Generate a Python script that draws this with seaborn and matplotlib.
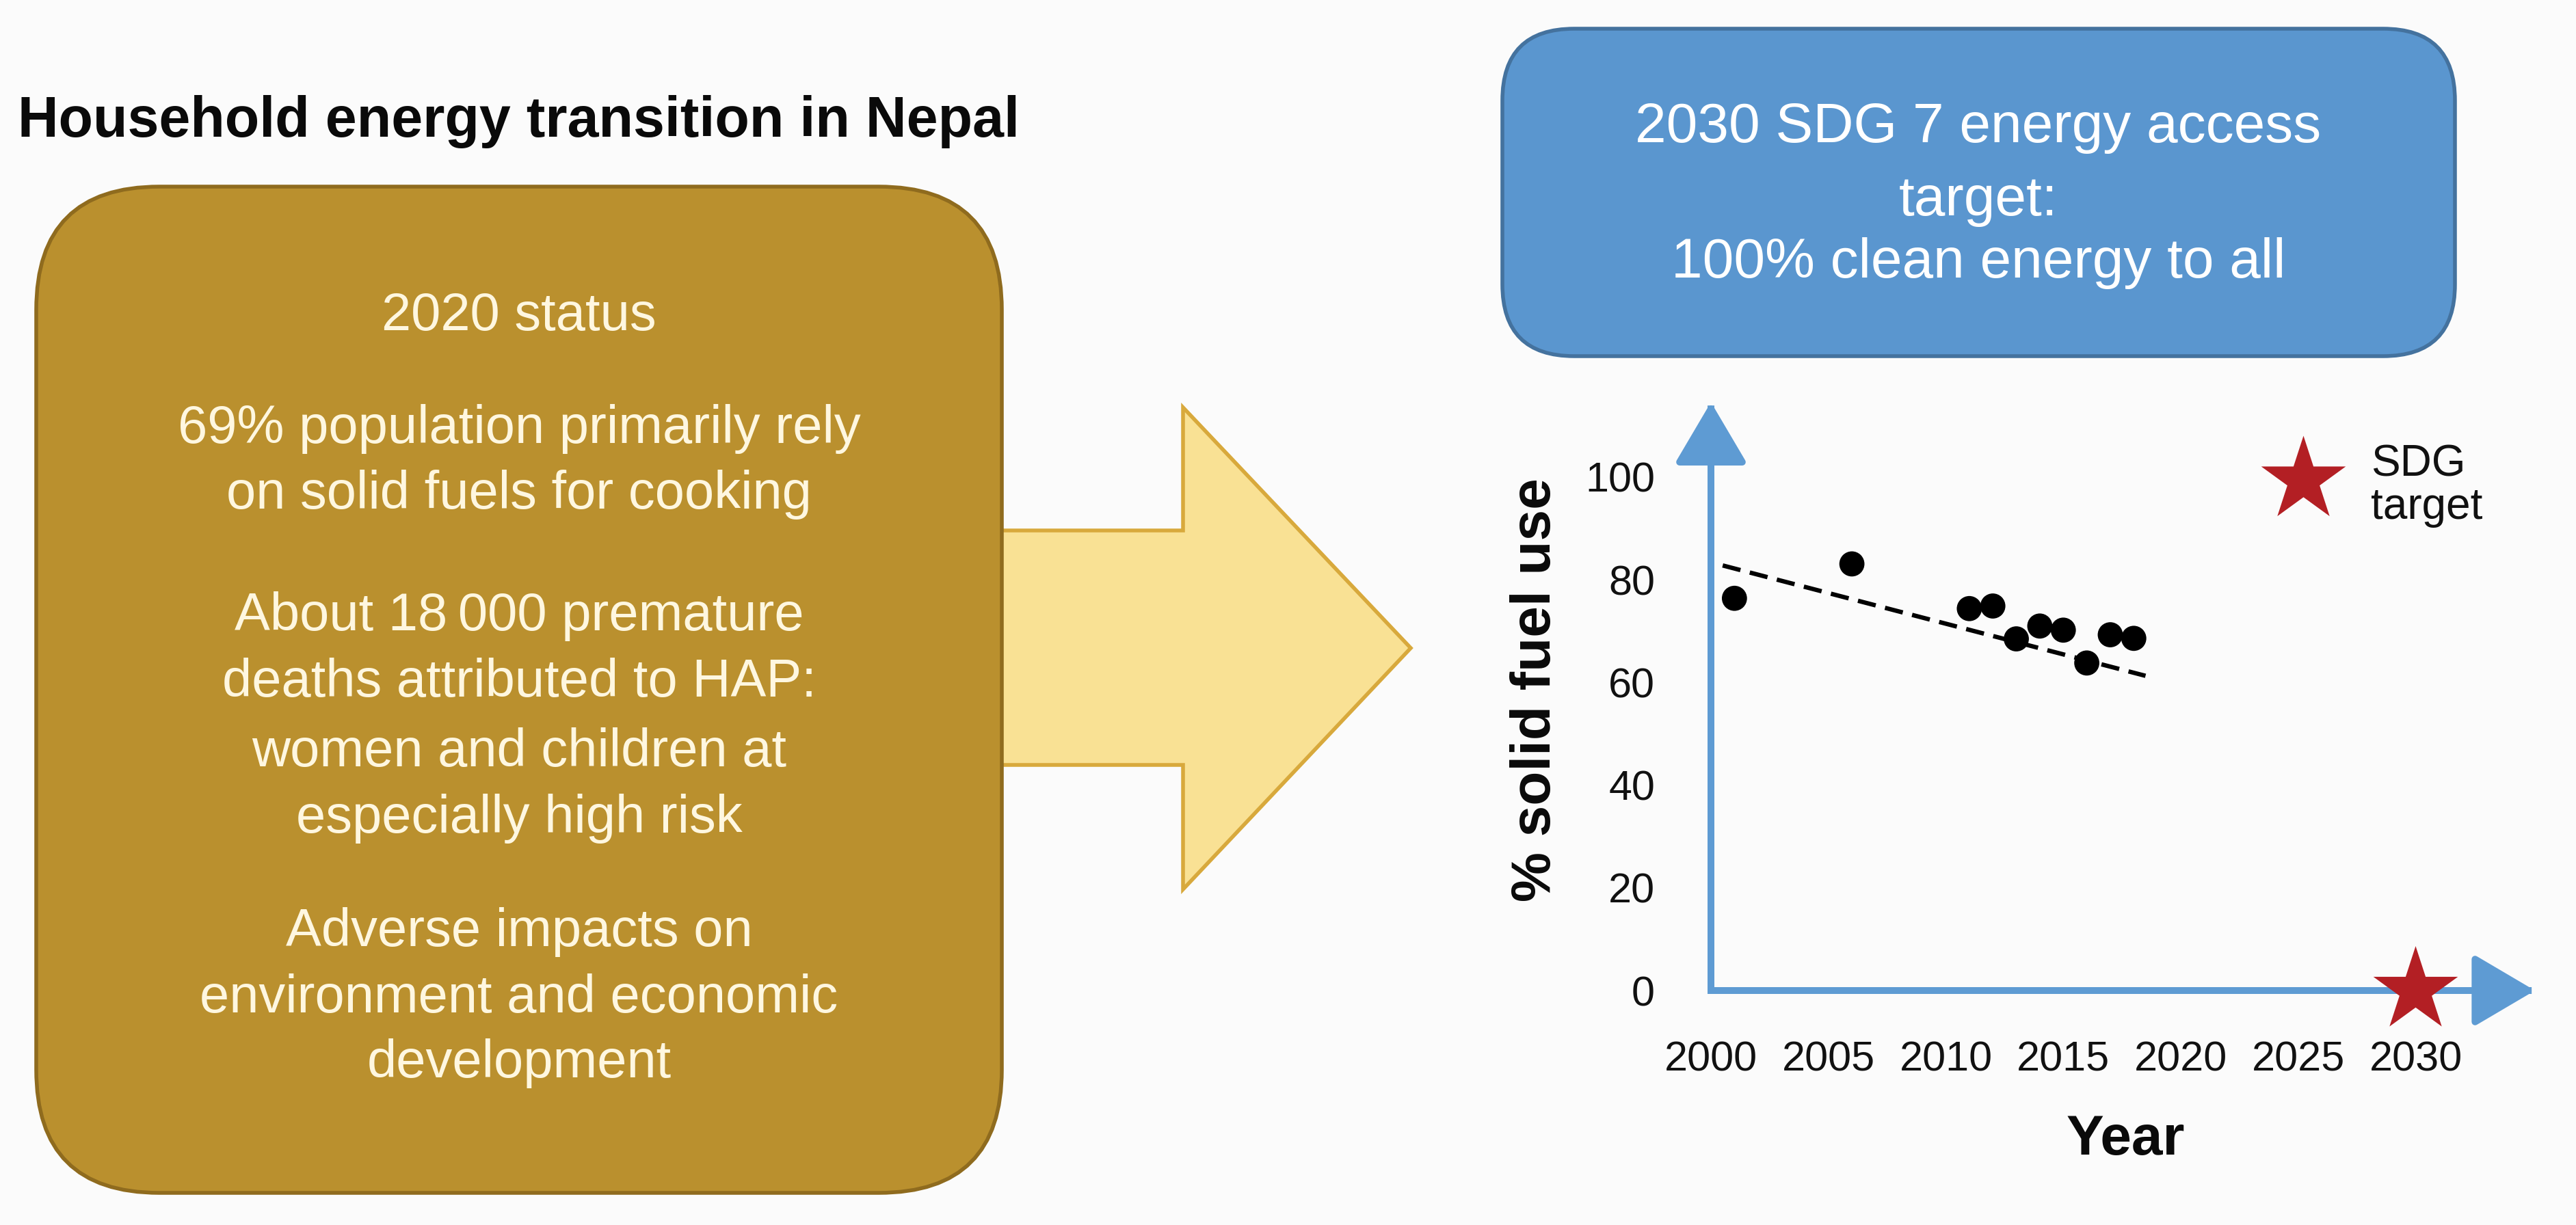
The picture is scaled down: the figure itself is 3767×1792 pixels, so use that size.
import matplotlib
matplotlib.use("Agg")
import matplotlib.pyplot as plt
from matplotlib.patches import FancyBboxPatch, Polygon
import seaborn as sns
import pandas as pd

# ---------------- data ----------------
years = [2001, 2006, 2011, 2012, 2013, 2014, 2015, 2016, 2017, 2018]
solid_fuel_pct = [76.4, 83.1, 74.4, 74.9, 68.5, 71.0, 70.2, 63.8, 69.3, 68.6]
trend_years = [2000.5, 2018.5]
trend_pct = [82.8, 61.3]
target_year = [2030]
target_pct = [0]
x_ticks = [2000, 2005, 2010, 2015, 2020, 2025, 2030]
y_ticks = [0, 20, 40, 60, 80, 100]

title_text = "Household energy transition in Nepal"
status_lines = [
    "2020 status",
    "69% population primarily rely",
    "on solid fuels for cooking",
    "About 18\u2009000 premature",
    "deaths attributed to HAP:",
    "women and children at",
    "especially high risk",
    "Adverse impacts on",
    "environment and economic",
    "development",
]
target_lines = ["2030 SDG 7 energy access", "target:", "100% clean energy to all"]
legend_text = "SDG\ntarget"
x_label = "Year"
y_label = "% solid fuel use"

# ---------------- style ----------------
W, H, DPI = 3767, 1792, 100
BG = "#FBFBFB"
GOLD, GOLD_EDGE = "#BA902E", "#8F6B1E"
ARROW_FILL, ARROW_EDGE = "#F9E194", "#D8A93C"
BLUE, BLUE_EDGE = "#5A96CF", "#44729E"
AXC = "#5E9BD3"
STAR = "#B31F24"

sns.set_theme(style="white")
plt.rcParams["font.family"] = ["Liberation Sans", "DejaVu Sans"]

fig = plt.figure(figsize=(W / DPI, H / DPI), dpi=DPI, facecolor=BG)

# background layer in pixel coordinates (decorative shapes)
bg = fig.add_axes([0, 0, 1, 1], zorder=0)
bg.set_xlim(0, W)
bg.set_ylim(H, 0)
bg.axis("off")

bg.text(26, 200, title_text, fontsize=59.5, fontweight="bold", color="#0A0A0A",
        ha="left", va="baseline")

arrow_pts = [(1400, 776), (1730, 776), (1730, 596), (2063, 948),
             (1730, 1301), (1730, 1119), (1400, 1119)]
bg.add_patch(Polygon(arrow_pts, closed=True, facecolor=ARROW_FILL,
                     edgecolor=ARROW_EDGE, linewidth=4, joinstyle="miter", zorder=1))

bg.add_patch(FancyBboxPatch((53, 273), 1465 - 53, 1745 - 273,
                            boxstyle="round,pad=0,rounding_size=180",
                            facecolor=GOLD, edgecolor=GOLD_EDGE, linewidth=4, zorder=2))
status_y = [462, 627, 724, 901, 998, 1100, 1197, 1363, 1460, 1556]
for txt, yy in zip(status_lines, status_y):
    bg.text(759, yy, txt, fontsize=56, color="#FFF7E0", ha="center", va="center", zorder=3)

bg.add_patch(FancyBboxPatch((2197, 42), 3590 - 2197, 521 - 42,
                            boxstyle="round,pad=0,rounding_size=105",
                            facecolor=BLUE, edgecolor=BLUE_EDGE, linewidth=4, zorder=2))
for txt, yy in zip(target_lines, [187, 294, 385]):
    bg.text(2893, yy, txt, fontsize=59, color="white", ha="center", va="center", zorder=3)

# ---------------- chart ----------------
x0_px, y0_px, px_per_year, px_per_unit = 2502, 1449, 34.35, 7.51
xlim = (2000, 2035.5)
ylim = (0, 116)
ax = fig.add_axes([x0_px / W, 1 - y0_px / H,
                   (xlim[1] - xlim[0]) * px_per_year / W,
                   (ylim[1] - ylim[0]) * px_per_unit / H], zorder=2)
ax.patch.set_alpha(0)
ax.set_xlim(*xlim)
ax.set_ylim(*ylim)
for s in ax.spines.values():
    s.set_visible(False)

arrow_kw = dict(arrowstyle="-|>,head_length=5.6,head_width=3.3", mutation_scale=10,
                lw=7.2, color=AXC, shrinkA=0, shrinkB=0, capstyle="projecting")
ax.annotate("", xy=(2035.08, 0), xytext=(2000, 0), arrowprops=arrow_kw,
            annotation_clip=False, zorder=3)
ax.annotate("", xy=(2000, 114.6), xytext=(2000, 0), arrowprops=arrow_kw,
            annotation_clip=False, zorder=3)

df = pd.DataFrame({"Year": years, "pct": solid_fuel_pct})
sns.lineplot(x=trend_years, y=trend_pct, ax=ax, color="black", linewidth=4.6,
             linestyle=(0, (4.2, 2.2)), zorder=4)
sns.scatterplot(data=df, x="Year", y="pct", ax=ax, s=700, color="black",
                edgecolor="none", linewidth=0, zorder=5, legend=False)
sns.scatterplot(x=target_year, y=target_pct, ax=ax, marker="*", s=8760, color=STAR,
                edgecolor="none", linewidth=0, zorder=6, clip_on=False, legend=False)

# legend glyph + text
ax.scatter([2025.2], [99.5], marker="*", s=8760, color=STAR, linewidth=0,
           zorder=6, clip_on=False)
ax.text(2028.1, 98.3, legend_text, fontsize=46, color="#111111", ha="left",
        va="center", linespacing=1.05)

ax.set_xticks(x_ticks)
ax.set_yticks(y_ticks)
ax.set_xticklabels([str(v) for v in x_ticks])
ax.set_yticklabels([str(v) for v in y_ticks])
ax.tick_params(axis="both", length=0, labelsize=44, labelcolor="#111111")
ax.tick_params(axis="x", pad=53)
ax.tick_params(axis="y", pad=59)

ax.set_xlabel(x_label, fontsize=59, fontweight="bold", color="#0A0A0A")
ax.set_ylabel(y_label, fontsize=59, fontweight="bold", color="#0A0A0A")
ax.xaxis.set_label_coords(0.497, -0.2078)
ax.yaxis.set_label_coords(-0.1788, 0.505)

fig.savefig("out.png", dpi=DPI, facecolor=fig.get_facecolor())
